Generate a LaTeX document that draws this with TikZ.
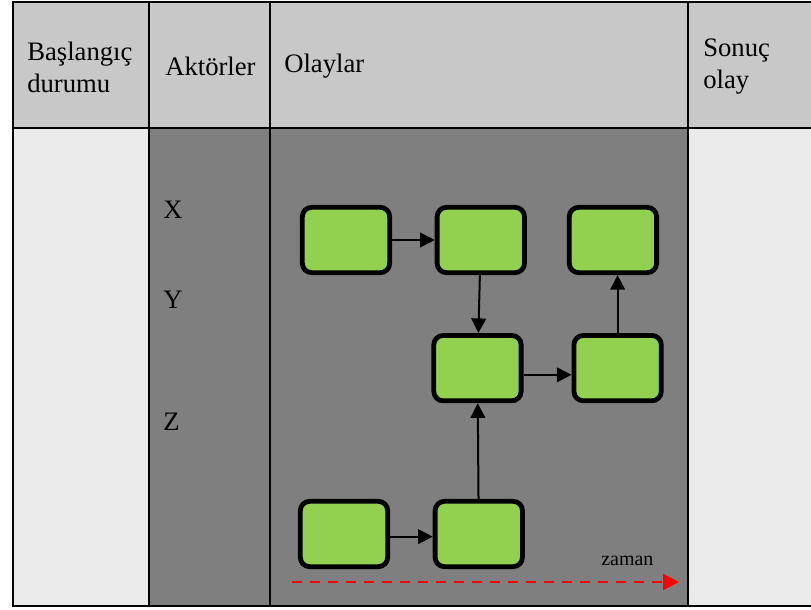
\documentclass[tikz,border=0pt]{standalone}
\usepackage{fontspec}
\setmainfont{Liberation Serif}
\usepackage{xcolor}
\definecolor{cHead}{HTML}{C8C8C8}
\definecolor{cSide}{HTML}{EBEBEB}
\definecolor{cDark}{HTML}{7F7F7F}
\definecolor{cEvent}{HTML}{92D050}
\definecolor{cTime}{HTML}{FF0000}
\usetikzlibrary{positioning,arrows.meta}
\tikzset{
  cell-text/.style={inner sep=0pt,anchor=west,align=left,
    font=\fontsize{20}{24}\selectfont},
  node-event/.style={draw=black,line width=3.6pt,fill=cEvent,
    rounded corners=7pt,minimum width=65.5pt,minimum height=49pt},
  arrow/.style={-{Triangle[length=11pt,width=11pt]},line width=1.5pt},
  arrow-time/.style={-{Triangle[length=12pt,width=12pt]},line width=1.6pt,
    draw=cTime,dash pattern=on 7.5pt off 6pt},
  grid-line/.style={line width=1.8pt},
}

\begin{document}
\begin{tikzpicture}[x=0.75pt,y=-0.75pt,node distance=32pt and 32pt]
  \useasboundingbox (0,0) rectangle (811,610);

  % cell fills
  \fill[cHead] (13,2) rectangle (815,128);
  \fill[cSide] (13,128) rectangle (149,606);
  \fill[cDark] (149,128) rectangle (688,606);
  \fill[cSide] (688,128) rectangle (815,606);

  % table rules
  \draw[grid-line] (815,2) -- (13,2) -- (13,606) -- (815,606);
  \draw[grid-line] (13,128) -- (815,128);
  \foreach \x in {149,270,688}
    \draw[grid-line] (\x,2) -- (\x,606);

  % header
  \node[cell-text] (h-start) at (27,67) {Başlangıç\\durumu};
  \node[cell-text] (h-actor) at (165,66) {Aktörler};
  \node[cell-text] (h-event) at (284,66) {Olaylar};
  \node[cell-text] (h-end) at (703,67) {Sonuç\\olay};

  % actors
  \node[cell-text] (act-x) at (163,210) {X};
  \node[cell-text] (act-y) at (163,300) {Y};
  \node[cell-text] (act-z) at (163,422) {Z};

  % events
  \node[node-event] (a) at (346,240) {};
  \node[node-event,right=of a] (b) {};
  \node[node-event,right=30pt of b] (c) {};
  \node[node-event,below=43.5pt of b,xshift=-2.5pt] (d) {};
  \node[node-event,right=36pt of d] (e) {};
  \node[node-event] (f) at (344,534) {};
  \node[node-event,right=of f] (g) {};

  \draw[arrow] (a) -- (b);
  \draw[arrow] (b) -- (d);
  \draw[arrow] ([yshift=-5pt]d.east) -- ([yshift=-5pt]e.west);
  \draw[arrow] (e.north) -- (e.north |- c.south);
  \draw[arrow] ([yshift=-2pt]f.east) -- ([yshift=-2pt]g.west);
  \draw[arrow] (g) -- (d);

  % time axis
  \coordinate (t0) at (292,582);
  \coordinate (t1) at (679,582);
  \draw[arrow-time] (t0) -- (t1);
  \node[inner sep=0pt,anchor=base west,font=\fontsize{15}{18}\selectfont]
    (time) at (601,565) {zaman};
\end{tikzpicture}
\end{document}
